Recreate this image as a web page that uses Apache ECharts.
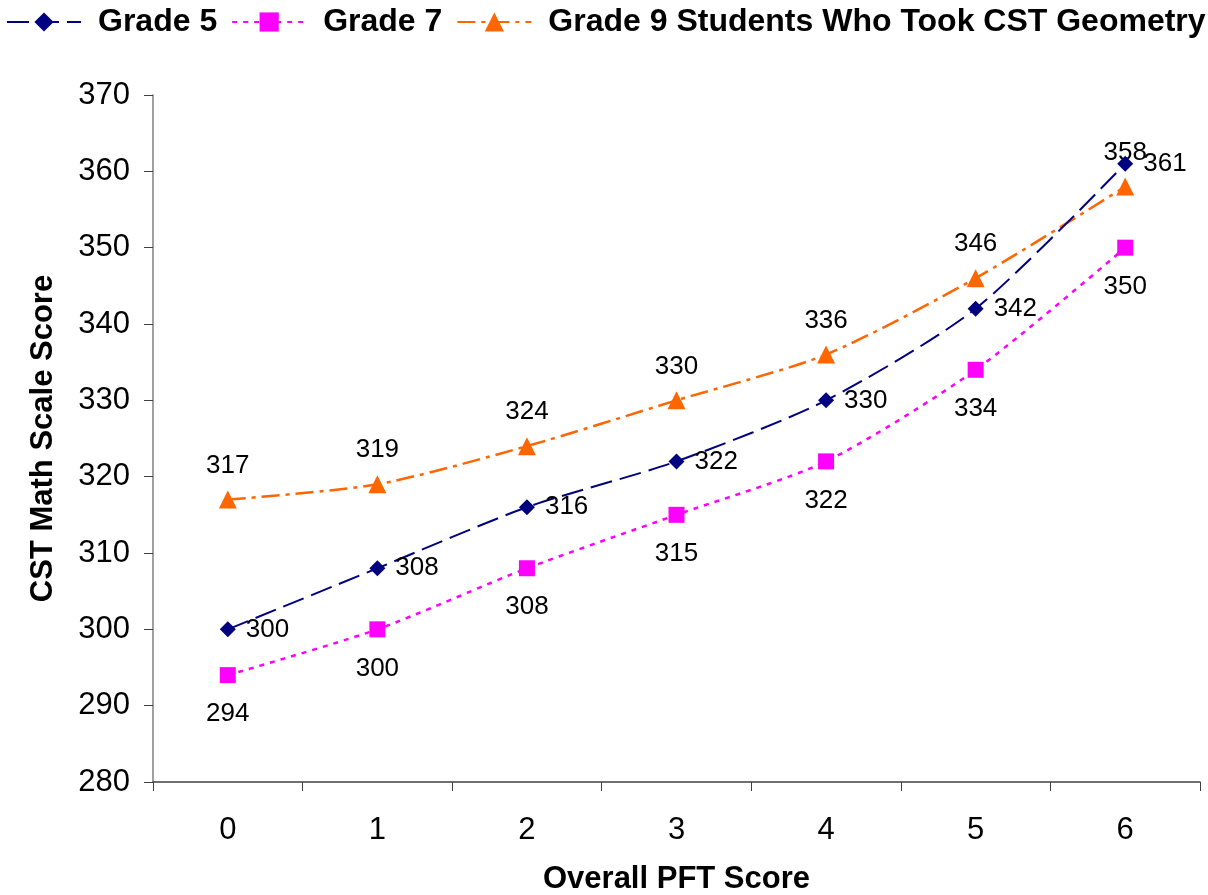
<!DOCTYPE html>
<html>
<head>
<meta charset="utf-8">
<script src="https://cdn.jsdelivr.net/npm/echarts@6/dist/echarts.min.js"></script>
<style>
html,body{margin:0;padding:0;background:#fff;}
#chart{width:1208px;height:895px;}
</style>
</head>
<body>
<div id="chart"></div>
<script>
const categories = ['0','1','2','3','4','5','6'];
const grade5 = [300, 308, 316, 322, 330, 342, 361];
const grade7 = [294, 300, 308, 315, 322, 334, 350];
const grade9 = [317, 319, 324, 330, 336, 346, 358];
const seriesNames = ['Grade 5', 'Grade 7', 'Grade 9 Students Who Took CST Geometry'];
const yTicks = [280, 290, 300, 310, 320, 330, 340, 350, 360, 370];

const FONT = 'Liberation Sans, Arial, Helvetica, sans-serif';
const chart = echarts.init(document.getElementById('chart'));

function labelCfg(pos, dist) {
  return { show: true, position: pos, distance: dist, color: '#000', fontFamily: FONT, fontSize: 26 };
}

chart.setOption({
  animation: false,
  backgroundColor: '#fff',
  legend: {
    left: 6, top: 6, width: 1202, padding: 0,
    itemWidth: 74, itemHeight: 24, itemGap: 14,
    textStyle: { fontFamily: FONT, fontSize: 32, fontWeight: 'bold', color: '#000', padding: [0, 0, 0, 12] },
    data: seriesNames
  },
  grid: { left: 153, right: 8, top: 95, bottom: 113, containLabel: false, outerBoundsMode: 'none' },
  xAxis: {
    type: 'category',
    data: categories,
    boundaryGap: true,
    name: 'Overall PFT Score',
    nameLocation: 'middle',
    nameGap: 82,
    nameTextStyle: { fontFamily: FONT, fontSize: 31, fontWeight: 'bold', color: '#000' },
    axisLine: { lineStyle: { color: '#404040', width: 1.5 } },
    axisTick: { show: true, length: 9, lineStyle: { color: '#404040' } },
    axisLabel: { fontFamily: FONT, fontSize: 31, color: '#000', margin: 33 }
  },
  yAxis: {
    type: 'value',
    min: yTicks[0], max: yTicks[yTicks.length - 1], interval: 10,
    name: 'CST Math Scale Score',
    nameLocation: 'middle',
    nameGap: 94,
    nameTextStyle: { fontFamily: FONT, fontSize: 31, fontWeight: 'bold', color: '#000' },
    axisLine: { show: true, lineStyle: { color: '#808080', width: 1.5 } },
    axisTick: { show: true, length: 9, lineStyle: { color: '#404040' } },
    splitLine: { show: false },
    axisLabel: { fontFamily: FONT, fontSize: 31, color: '#000', margin: 23 }
  },
  series: [
    {
      name: seriesNames[0], type: 'line', data: grade5, smooth: 0.25,
      symbol: 'diamond', symbolSize: 16,
      itemStyle: { color: '#000080' },
      lineStyle: { color: '#000080', width: 2, type: [22, 8] },
      label: labelCfg('right', 10), z: 3
    },
    {
      name: seriesNames[1], type: 'line', data: grade7, smooth: 0.25,
      symbol: 'rect', symbolSize: 16,
      itemStyle: { color: '#ff00ff' },
      lineStyle: { color: '#ff00ff', width: 2.5, type: [5, 6] },
      label: labelCfg('bottom', 18), z: 2
    },
    {
      name: seriesNames[2], type: 'line', data: grade9, smooth: 0.25,
      symbol: 'triangle', symbolSize: 18,
      itemStyle: { color: '#ff6600' },
      lineStyle: { color: '#ff6600', width: 2.5, type: [18, 6, 4, 6] },
      label: labelCfg('top', 12), z: 2
    }
  ]
});
</script>
</body>
</html>
